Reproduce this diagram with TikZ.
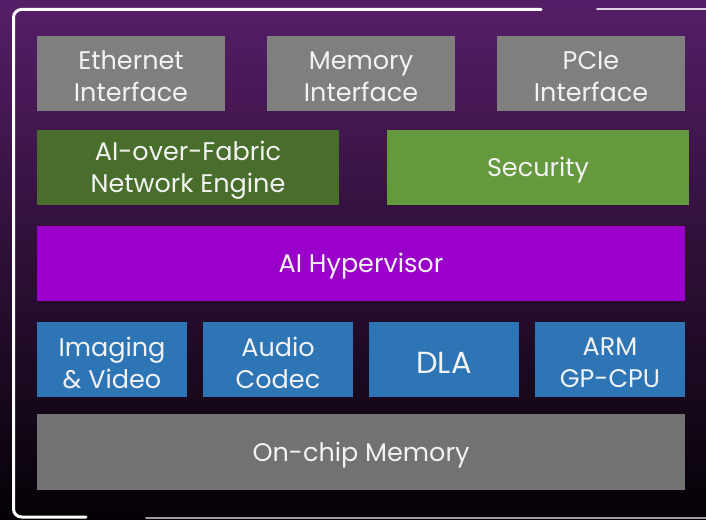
\documentclass[tikz,border=0pt]{standalone}
\usepackage{fontspec}
\setmainfont{Poppins}
\definecolor{bgtop}{RGB}{86,30,104}
\definecolor{bgmid}{RGB}{48,14,58}
\definecolor{bgbot}{RGB}{4,1,5}
\definecolor{ifgray}{RGB}{127,127,127}
\definecolor{memgray}{RGB}{114,114,114}
\definecolor{darkgreen}{RGB}{73,110,44}
\definecolor{lightgreen}{RGB}{100,154,61}
\definecolor{hyperpurple}{RGB}{155,0,202}
\definecolor{coreblue}{RGB}{46,117,182}
\definecolor{labelwhite}{RGB}{242,242,242}
\begin{document}
\begin{tikzpicture}[x=1pt,y=-1pt,
  lbl/.style={inner sep=0pt, text=labelwhite, align=center, yshift=-3pt,
    font=\fontsize{25.5}{32}\selectfont},
  blk/.style={inner sep=0pt, outer sep=0pt, anchor=north west},
  wide/.style={blk, minimum width=648pt, minimum height=75pt},
  third/.style={blk, fill=ifgray, minimum width=188pt, minimum height=75pt},
  half/.style={blk, minimum width=302pt, minimum height=75pt},
  core/.style={blk, fill=coreblue, minimum width=150pt, minimum height=75pt},
  frame/.style={line width=3pt, line cap=round}]
\useasboundingbox (0,0) rectangle (706,519);
% background
\shade[top color=bgtop, middle color=bgmid, bottom color=bgbot] (0,0) rectangle (706,519);
% outer frame
\draw[frame, white, rounded corners=8pt] (541,9.5) -- (13.5,9.5) -- (13.5,517) -- (86,517);
\draw[frame, line width=2pt, white!80!bgtop] (597,9.5) -- (708,9.5);
\draw[frame, line width=2pt, gray!75] (146,517.5) -- (708,517.5);
% interfaces
\node[third, label={[lbl]center:{Ethernet\\Interface}}] (eth) at (37,36) {};
\node[third, label={[lbl]center:{Memory\\Interface}}] (mem) at (267,36) {};
\node[third, label={[lbl]center:{PCIe\\Interface}}] (pcie) at (497,36) {};
% network and security
\node[half, fill=darkgreen, label={[lbl]center:{AI-over-Fabric\\Network Engine}}] (aof) at (37,130) {};
\node[half, fill=lightgreen, label={[lbl]center:Security}] (sec) at (387,130) {};
% hypervisor
\node[wide, fill=hyperpurple, label={[lbl]center:AI Hypervisor}] (hyp) at (37,226) {};
% compute cores
\node[core, label={[lbl]center:{Imaging\\\& Video}}] (img) at (37,322) {};
\node[core, label={[lbl]center:{Audio\\Codec}}] (aud) at (203,322) {};
\node[core, label={[lbl, font=\fontsize{30.5}{36}\selectfont]center:DLA}] (dla) at (369,322) {};
\node[core, label={[lbl]center:{ARM\\GP-CPU}}] (arm) at (535,322) {};
% memory
\node[wide, fill=memgray, minimum height=76pt, label={[lbl]center:On-chip Memory}] (ocm) at (37,414) {};
\end{tikzpicture}
\end{document}
